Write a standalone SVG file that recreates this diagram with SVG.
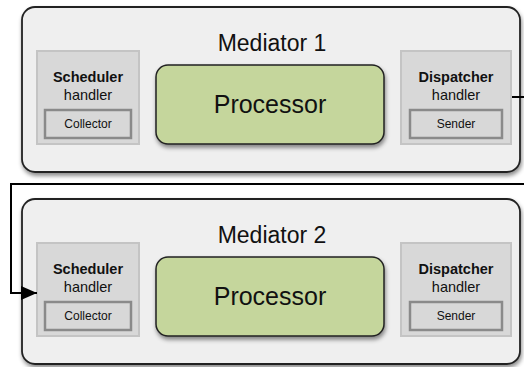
<svg xmlns="http://www.w3.org/2000/svg" width="524" height="367" viewBox="0 0 524 367">
<defs>
<filter id="sh" x="-10%" y="-10%" width="120%" height="130%">
<feDropShadow dx="1" dy="3" stdDeviation="2" flood-color="#000" flood-opacity="0.45"/>
</filter>
<marker id="arr" markerWidth="17" markerHeight="15" refX="16" refY="7" orient="auto" markerUnits="userSpaceOnUse">
<path d="M0,0 L16,7 L0,14 Z" fill="#000"/>
</marker>
<style>
text{font-family:"Liberation Sans",Arial,Helvetica,sans-serif;fill:#111;text-anchor:middle}
.med{fill:#efefef;stroke:#222;stroke-width:1.8}
.proc{fill:#c5d69c;stroke:#222;stroke-width:1.5}
.hdl{fill:#d8d8d8;stroke:#c4c4c4;stroke-width:2}
.inner{fill:#d8d8d8;stroke:#8a8a8a;stroke-width:2.5}
.title{font-size:23px}
.ptxt{font-size:25px}
.bold{font-size:14.5px;font-weight:bold}
.h{font-size:14.5px}
.s{font-size:12px}
.conn{fill:none;stroke:#000;stroke-width:2}
</style>
</defs>
<g id="mediator1">
<rect class="med" x="22" y="7" width="498" height="165" rx="13" filter="url(#sh)"/>
<text class="title" x="272" y="51">Mediator 1</text>
</g>
<g id="scheduler1">
<rect class="hdl" x="37" y="51" width="102" height="93"/>
<text class="bold" x="88" y="82">Scheduler</text>
<text class="h" x="88" y="100">handler</text>
<rect class="inner" x="45" y="110" width="86" height="28"/>
<text class="s" x="88" y="128">Collector</text>
</g>
<g id="processor1">
<rect class="proc" x="156" y="65" width="228" height="79" rx="12" filter="url(#sh)"/>
<text class="ptxt" x="270" y="113">Processor</text>
</g>
<g id="dispatcher1">
<rect class="hdl" x="401" y="51" width="110" height="93"/>
<text class="bold" x="456" y="82">Dispatcher</text>
<text class="h" x="456" y="100">handler</text>
<rect class="inner" x="410" y="110" width="92" height="28"/>
<text class="s" x="456" y="128">Sender</text>
</g>
<g id="mediator2">
<rect class="med" x="22" y="199" width="498" height="165" rx="13" filter="url(#sh)"/>
<text class="title" x="272" y="243">Mediator 2</text>
</g>
<g id="scheduler2">
<rect class="hdl" x="37" y="243" width="102" height="93"/>
<text class="bold" x="88" y="274">Scheduler</text>
<text class="h" x="88" y="292">handler</text>
<rect class="inner" x="45" y="302" width="86" height="28"/>
<text class="s" x="88" y="320">Collector</text>
</g>
<g id="processor2">
<rect class="proc" x="156" y="257" width="228" height="79" rx="12" filter="url(#sh)"/>
<text class="ptxt" x="270" y="305">Processor</text>
</g>
<g id="dispatcher2">
<rect class="hdl" x="401" y="243" width="110" height="93"/>
<text class="bold" x="456" y="274">Dispatcher</text>
<text class="h" x="456" y="292">handler</text>
<rect class="inner" x="410" y="302" width="92" height="28"/>
<text class="s" x="456" y="320">Sender</text>
</g>
<g id="connectors">
<path class="conn" d="M512,97 H526 V184 H11 V293 H37" marker-end="url(#arr)"/>
</g>
</svg>
